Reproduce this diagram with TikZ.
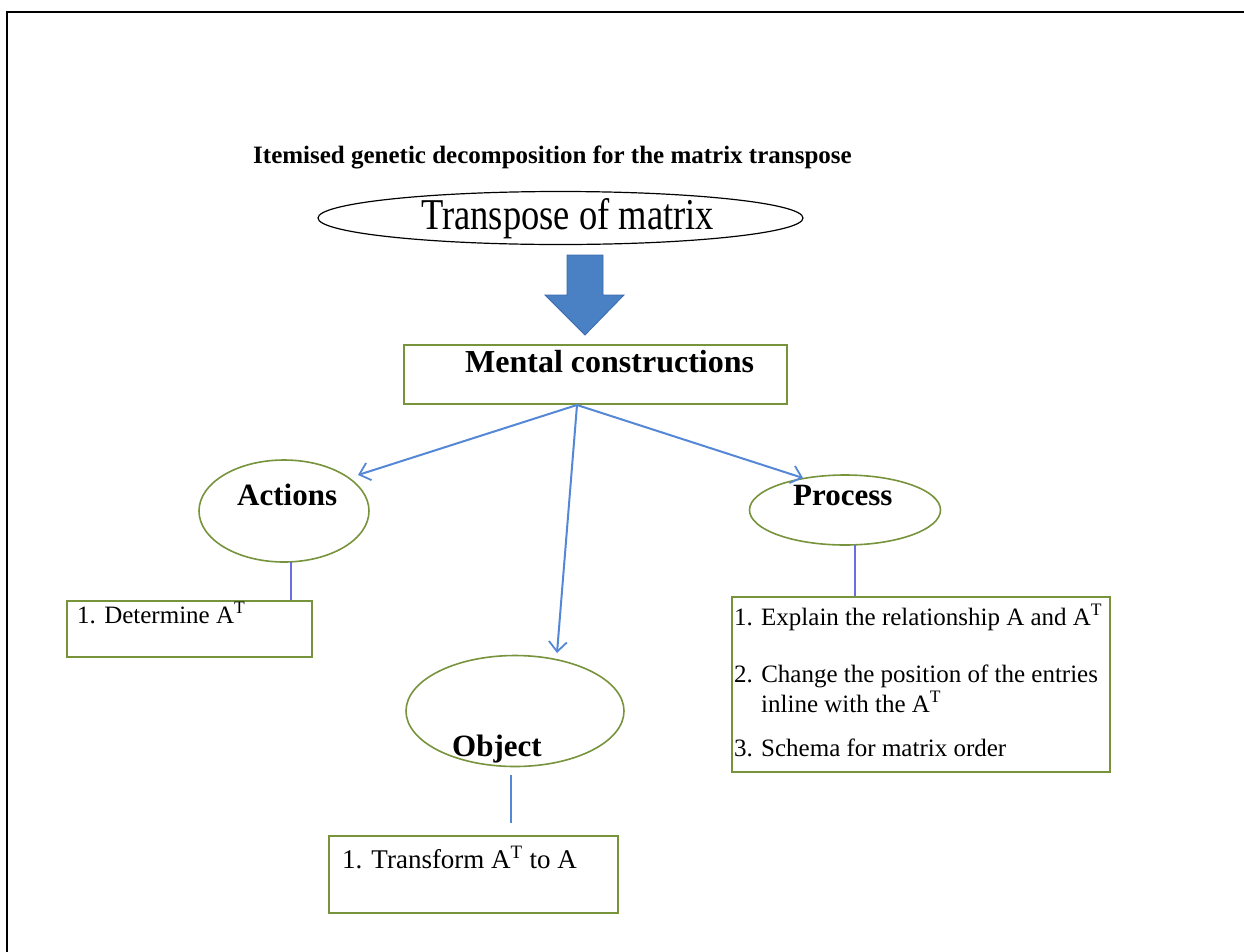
\documentclass[tikz,border=0pt]{standalone}
\usepackage{fontspec}
\setmainfont{Liberation Serif}
\usetikzlibrary{shapes.geometric,arrows.meta}
\definecolor{boxgreen}{RGB}{119,147,60}
\definecolor{blockblue}{RGB}{74,128,196}
\definecolor{blockedge}{RGB}{58,108,172}
\definecolor{linkblue}{RGB}{85,135,215}
\definecolor{stemblue}{RGB}{105,110,225}
\newcommand{\numtag}[1]{\makebox[27pt][l]{#1}}
\tikzset{
  gbox/.style={draw=boxgreen, line width=1.2pt, rectangle, inner sep=0pt},
  gell/.style={draw=boxgreen, line width=1.6pt, ellipse, inner sep=0pt},
  link/.style={draw=linkblue, line width=2pt, -{Straight Barb[length=10pt,width=18pt,line width=1.8pt]}},
  stem/.style={draw=stemblue, line width=1.1pt},
  txt/.style={anchor=base west, inner sep=0pt, font=\fontsize{25}{30}\selectfont},
  head/.style={anchor=base west, inner sep=0pt, font=\bfseries\fontsize{31}{36}\selectfont},
}
\begin{document}
\begin{tikzpicture}[x=1pt,y=-1pt]
\useasboundingbox (0,0) rectangle (1244,951);
% page frame
\draw[line width=2.6pt] (7,960) -- (7,12) -- (1250,12);

% title
\node[anchor=base west, inner sep=0pt, font=\bfseries\fontsize{25}{29}\selectfont] (title) at (253,163)
  {Itemised genetic decomposition for the matrix transpose};

% top concept
\node[draw=black, line width=1.2pt, ellipse, inner sep=0pt, minimum width=485pt, minimum height=53pt] (topic) at (560.5,218) {};
\node[anchor=base west, inner sep=0pt, font=\fontsize{44}{50}\selectfont\addfontfeature{FakeStretch=0.83}] (topictxt) at (421,229) {Transpose of matrix};

% block arrow
\draw[fill=blockblue, draw=blockedge, line width=0.8pt]
  (567,255) -- (603,255) -- (603,295) -- (624,295) -- (585,335) -- (545,295) -- (567,295) -- cycle;

% mental constructions
\node[gbox, minimum width=383pt, minimum height=59pt] (mc) at (595.5,374.5) {};
\node[head, font=\bfseries\fontsize{32}{36}\selectfont] (mctxt) at (465,372) {Mental constructions};
\coordinate (mcfoot) at (577,405);

% the three kinds of construction
\node[gell, minimum width=170pt, minimum height=102pt] (act) at (284,511) {};
\node[head] (acttxt) at (237,505) {Actions};
\node[gell, minimum width=191pt, minimum height=70pt] (proc) at (845,510) {};
\node[head] (proctxt) at (793,505) {Process};
\node[gell, minimum width=218pt, minimum height=111pt] (obj) at (515,711) {};
\node[head] (objtxt) at (452,756) {Object};

\coordinate (acttip) at (358,475);
\coordinate (proctip) at (803,478);
\coordinate (objtip) at (557,653);
\draw[link] (mcfoot) -- (acttip);
\draw[link] (mcfoot) -- (proctip);
\draw[link] (mcfoot) -- (objtip);

% item boxes
\node[gbox, minimum width=245pt, minimum height=56pt] (det) at (189.5,629) {};
\node[txt] (dettxt) at (77,623) {1. Determine A\textsuperscript{T}};

\node[gbox, minimum width=378pt, minimum height=175pt] (pbox) at (921,684.5) {};
\node[txt] (p1) at (734,625) {\numtag{1.}Explain the relationship A and A\textsuperscript{T}};
\node[txt] (p2) at (734,682) {2. Change the position of the entries};
\node[txt] (p2b) at (761,712) {inline with the A\textsuperscript{T}};
\node[txt] (p3) at (734,756) {\numtag{3.}Schema for matrix order};

\node[gbox, minimum width=289pt, minimum height=77pt] (tbox) at (473.5,874.5) {};
\node[txt, font=\fontsize{27}{32}\selectfont] (ttxt) at (342,868) {1. Transform A\textsuperscript{T} to A};

% stems from the ellipses to their item boxes
\coordinate (actfoot) at (291,562);
\draw[stem] (actfoot) -- (actfoot |- det.north);
\coordinate (procfoot) at (855,545);
\draw[stem] (procfoot) -- (procfoot |- pbox.north);
\coordinate (objfoot) at (511,775);
\coordinate (objend) at (511,823);
\draw[stem, draw=linkblue] (objfoot) -- (objend);
\end{tikzpicture}
\end{document}
